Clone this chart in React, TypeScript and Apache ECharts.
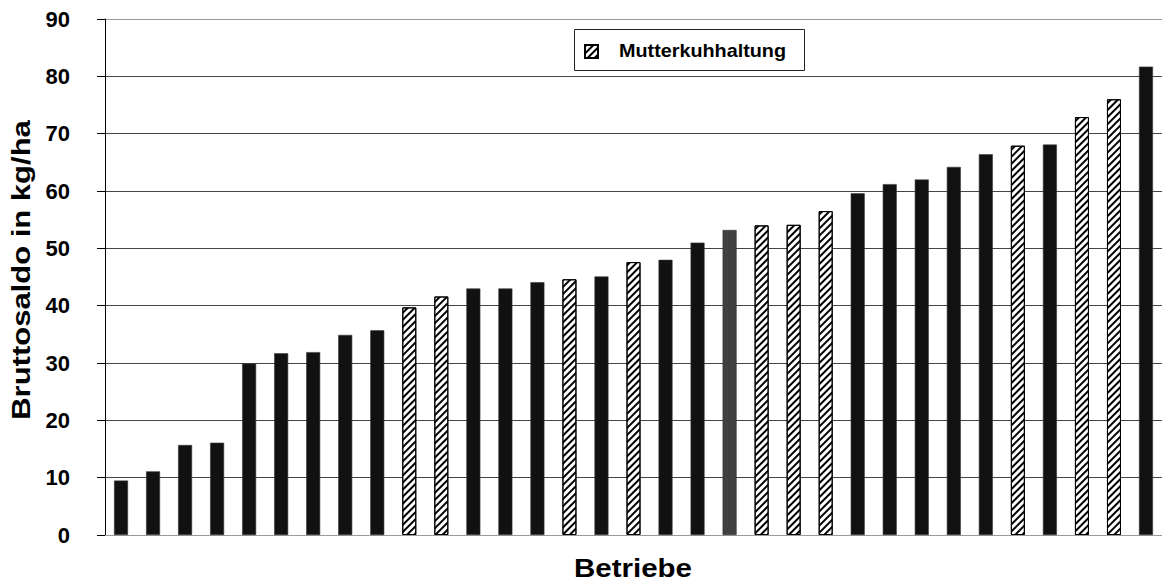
import React, { useEffect, useRef } from "react";
import * as echarts from "echarts";

// Betriebe (farms), sorted ascending
const values = [
  9.5, 11.1, 15.7, 16.1, 29.9, 31.7, 31.9, 34.9, 35.7, 39.7, 41.6, 43.0, 43.0,
  44.1, 44.6, 45.1, 47.6, 48.0, 51.0, 53.2, 54.0, 54.1, 56.5, 59.6, 61.2, 62.0,
  64.2, 66.4, 67.9, 68.1, 72.9, 76.0, 81.7,
];
// 0 = black, 1 = Mutterkuhhaltung (hatched), 2 = dark grey
const kinds = [
  0, 0, 0, 0, 0, 0, 0, 0, 0, 1, 1, 0, 0, 0, 1, 0, 1, 0, 0, 2, 1, 1, 1, 0, 0, 0,
  0, 0, 1, 0, 1, 1, 0,
];
const categories = values.map((_, i) => String(i + 1));
const yTicks = [0, 10, 20, 30, 40, 50, 60, 70, 80, 90];
const yTitle = "Bruttosaldo in kg/ha";
const xTitle = "Betriebe";
const legendName = "Mutterkuhhaltung";

const FONT = "'Liberation Sans', Arial, Helvetica, sans-serif";

export default function App() {
  const ref = useRef<HTMLDivElement>(null);
  useEffect(() => {
    if (!ref.current) return;
    const chart = echarts.init(ref.current, undefined, { renderer: "svg" });
    const hatch = {
      symbol: "rect",
      symbolSize: 1,
      color: "#000",
      backgroundColor: "#fff",
      dashArrayX: [1, 0],
      dashArrayY: [1.8, 2.2],
      rotation: -Math.PI / 4,
    };
    const solidData = values.map((v, i) =>
      kinds[i] === 1
        ? "-"
        : kinds[i] === 2
        ? { value: v, itemStyle: { color: "#404040", borderColor: "#333" } }
        : v
    );
    const hatchData = values.map((v, i) => (kinds[i] === 1 ? v : "-"));
    const gridColors = yTicks.map((t) =>
      t === 0 || t === 90 ? "#9a9a9a" : "#444"
    );
    chart.setOption({
      animation: false,
      backgroundColor: "#fff",
      grid: { left: 105, top: 19, width: 1065, height: 516, containLabel: false },
      legend: {
        data: [{ name: legendName, icon: "rect" }],
        left: 584,
        top: 44,
        itemWidth: 13,
        itemHeight: 13,
        padding: 0,
        selectedMode: false,
        formatter: () => "",
      },
      xAxis: {
        type: "category",
        data: categories,
        axisLine: { show: true, lineStyle: { color: "#9a9a9a", width: 1 } },
        axisTick: { show: false },
        axisLabel: { show: false },
        splitLine: { show: false },
      },
      yAxis: {
        type: "value",
        min: 0,
        max: 90,
        interval: 10,
        axisLine: { show: true, lineStyle: { color: "#000", width: 1 } },
        axisTick: {
          show: true,
          inside: false,
          length: 8,
          lineStyle: { color: "#000" },
        },
        axisLabel: {
          margin: 35,
          color: "#000",
          fontSize: 22,
          fontWeight: "bold",
          fontFamily: FONT,
        },
        splitLine: { show: true, lineStyle: { color: gridColors, width: 1 } },
      },
      series: [
        {
          name: xTitle,
          type: "bar",
          data: solidData,
          barWidth: 14,
          barGap: "-100%",
          itemStyle: { color: "#111", borderColor: "#3a3a3a", borderWidth: 0.6 },
        },
        {
          name: legendName,
          type: "bar",
          data: hatchData,
          barWidth: 14,
          barGap: "-100%",
          itemStyle: {
            color: "#fff",
            borderColor: "#000",
            borderWidth: 1,
            decal: hatch,
          },
        },
      ],
      graphic: [
        {
          type: "rect",
          shape: { x: 574.5, y: 29.5, width: 230, height: 41 },
          style: { fill: "none", stroke: "#222", lineWidth: 1 },
          z: 10,
        },
        {
          type: "text",
          x: 619,
          y: 50.5,
          scaleX: 1.1,
          style: {
            text: legendName,
            fontSize: 18,
            fontWeight: "bold",
            fontFamily: FONT,
            fill: "#000",
            align: "left",
            verticalAlign: "middle",
          },
          z: 10,
        },
        {
          type: "text",
          x: 22,
          y: 270,
          rotation: Math.PI / 2,
          scaleX: 1.24,
          style: {
            text: yTitle,
            fontSize: 25,
            fontWeight: "bold",
            fontFamily: FONT,
            fill: "#000",
            align: "center",
            verticalAlign: "middle",
          },
        },
        {
          type: "text",
          x: 633,
          y: 568,
          scaleX: 1.18,
          style: {
            text: xTitle,
            fontSize: 25,
            fontWeight: "bold",
            fontFamily: FONT,
            fill: "#000",
            align: "center",
            verticalAlign: "middle",
          },
        },
      ],
    });
    return () => chart.dispose();
  }, []);
  return (
    <div
      ref={ref}
      style={{ position: "absolute", left: 0, top: 0, width: 1162, height: 582 }}
    />
  );
}
